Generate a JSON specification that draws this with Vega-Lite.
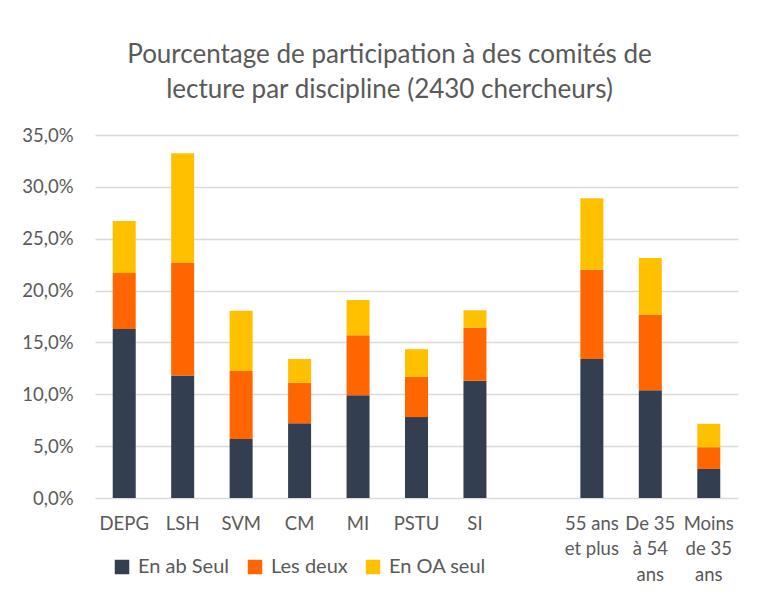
{
  "$schema": "https://vega.github.io/schema/vega-lite/v6.json",
  "width": 643,
  "height": 363,
  "autosize": {"type": "none"},
  "padding": {"left": 95, "top": 135, "right": 24, "bottom": 106},
  "background": "white",
  "title": {
    "text": ["Pourcentage de participation à des comités de", "lecture par discipline (2430 chercheurs)"],
    "font": "Lato",
    "fontSize": 26,
    "fontWeight": "normal",
    "color": "#595959",
    "lineHeight": 35,
    "anchor": "middle",
    "dx": -27,
    "offset": 23
  },
  "data": {
    "values": [
      {"cat": "DEPG", "serie": "En ab Seul", "rang": 1, "val": 16.3},
      {"cat": "DEPG", "serie": "Les deux", "rang": 2, "val": 5.4},
      {"cat": "DEPG", "serie": "En OA seul", "rang": 3, "val": 5.0},
      {"cat": "LSH", "serie": "En ab Seul", "rang": 1, "val": 11.8},
      {"cat": "LSH", "serie": "Les deux", "rang": 2, "val": 10.9},
      {"cat": "LSH", "serie": "En OA seul", "rang": 3, "val": 10.55},
      {"cat": "SVM", "serie": "En ab Seul", "rang": 1, "val": 5.7},
      {"cat": "SVM", "serie": "Les deux", "rang": 2, "val": 6.55},
      {"cat": "SVM", "serie": "En OA seul", "rang": 3, "val": 5.8},
      {"cat": "CM", "serie": "En ab Seul", "rang": 1, "val": 7.2},
      {"cat": "CM", "serie": "Les deux", "rang": 2, "val": 3.9},
      {"cat": "CM", "serie": "En OA seul", "rang": 3, "val": 2.3},
      {"cat": "MI", "serie": "En ab Seul", "rang": 1, "val": 9.9},
      {"cat": "MI", "serie": "Les deux", "rang": 2, "val": 5.8},
      {"cat": "MI", "serie": "En OA seul", "rang": 3, "val": 3.4},
      {"cat": "PSTU", "serie": "En ab Seul", "rang": 1, "val": 7.8},
      {"cat": "PSTU", "serie": "Les deux", "rang": 2, "val": 3.9},
      {"cat": "PSTU", "serie": "En OA seul", "rang": 3, "val": 2.65},
      {"cat": "SI", "serie": "En ab Seul", "rang": 1, "val": 11.3},
      {"cat": "SI", "serie": "Les deux", "rang": 2, "val": 5.1},
      {"cat": "SI", "serie": "En OA seul", "rang": 3, "val": 1.7},
      {"cat": "55 ans et plus", "serie": "En ab Seul", "rang": 1, "val": 13.4},
      {"cat": "55 ans et plus", "serie": "Les deux", "rang": 2, "val": 8.6},
      {"cat": "55 ans et plus", "serie": "En OA seul", "rang": 3, "val": 6.9},
      {"cat": "De 35 à 54 ans", "serie": "En ab Seul", "rang": 1, "val": 10.4},
      {"cat": "De 35 à 54 ans", "serie": "Les deux", "rang": 2, "val": 7.3},
      {"cat": "De 35 à 54 ans", "serie": "En OA seul", "rang": 3, "val": 5.45},
      {"cat": "Moins de 35 ans", "serie": "En ab Seul", "rang": 1, "val": 2.8},
      {"cat": "Moins de 35 ans", "serie": "Les deux", "rang": 2, "val": 2.1},
      {"cat": "Moins de 35 ans", "serie": "En OA seul", "rang": 3, "val": 2.25}
    ]
  },
  "mark": {"type": "bar", "size": 23},
  "encoding": {
    "x": {
      "field": "cat",
      "type": "nominal",
      "scale": {
        "domain": ["DEPG", "LSH", "SVM", "CM", "MI", "PSTU", "SI", "_", "55 ans et plus", "De 35 à 54 ans", "Moins de 35 ans"],
        "paddingInner": 0,
        "paddingOuter": 0
      },
      "axis": {
        "title": null,
        "domain": false,
        "ticks": false,
        "labelAngle": 0,
        "labelFont": "Lato",
        "labelFontSize": 18.5,
        "labelColor": "#595959",
        "labelPadding": 16,
        "labelLineHeight": 25.5,
        "labelBaseline": "top",
        "labelExpr": "datum.value == '_' ? '' : datum.value == '55 ans et plus' ? ['55 ans', 'et plus'] : datum.value == 'De 35 à 54 ans' ? ['De 35', 'à 54', 'ans'] : datum.value == 'Moins de 35 ans' ? ['Moins', 'de 35', 'ans'] : datum.value"
      }
    },
    "y": {
      "field": "val",
      "type": "quantitative",
      "stack": "zero",
      "scale": {"domain": [0, 35], "nice": false},
      "axis": {
        "title": null,
        "domain": false,
        "ticks": false,
        "values": [0, 5, 10, 15, 20, 25, 30, 35],
        "grid": true,
        "gridColor": "#D9D9D9",
        "gridWidth": 1.3,
        "labelFont": "Lato",
        "labelFontSize": 18.5,
        "labelColor": "#595959",
        "labelPadding": 22,
        "labelExpr": "replace(format(datum.value, '.1f'), '.', ',') + '%'"
      }
    },
    "color": {
      "field": "serie",
      "type": "nominal",
      "scale": {
        "domain": ["En ab Seul", "Les deux", "En OA seul"],
        "range": ["#333F50", "#FF6600", "#FFC000"]
      },
      "legend": {
        "title": null,
        "orient": "none",
        "direction": "horizontal",
        "legendX": 17,
        "legendY": 422,
        "symbolType": "square",
        "symbolSize": 210,
        "symbolStrokeWidth": 0,
        "symbolOpacity": 1,
        "labelFont": "Lato",
        "labelFontSize": 20,
        "labelColor": "#595959",
        "labelOffset": 6,
        "columnPadding": 15
      }
    },
    "order": {"field": "rang", "type": "quantitative"}
  },
  "config": {
    "view": {"stroke": null}
  }
}
